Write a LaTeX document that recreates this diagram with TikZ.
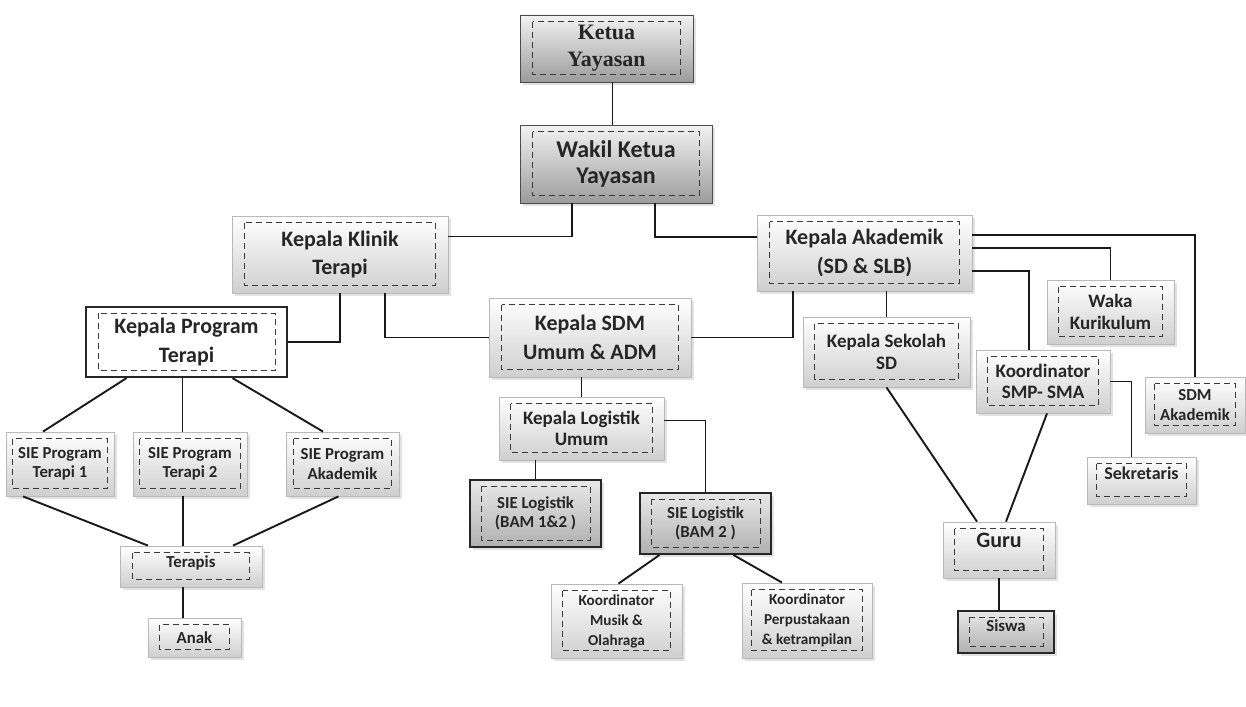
\documentclass[tikz,border=0pt]{standalone}
\usepackage{fontspec}
\setmainfont{Carlito}
\newfontfamily\ketuafont{Liberation Serif}
\usetikzlibrary{shadows}

\begin{document}
\begin{tikzpicture}[x=0.5pt,y=-0.5pt,
  box/.style={draw=gray!55, top color=white, bottom color=gray!38, align=center, inner sep=0pt, text=black!85,
    drop shadow={shadow xshift=1.3pt, shadow yshift=-1.3pt, fill=gray!45}},
  darkbox/.style={box, draw=gray!60!black, top color=gray!10, bottom color=gray!78},
  heavybox/.style={box, draw=black!85, line width=1pt, top color=gray!18, bottom color=gray!62},
  plainbox/.style={draw=black!85, line width=1.1pt, fill=white, align=center, inner sep=0pt, text=black!85},
  serifbig/.style={font=\ketuafont\bfseries\fontsize{11}{13.5}\selectfont},
  big/.style={font=\bfseries\fontsize{11}{14.2}\selectfont},
  mid/.style={font=\bfseries\fontsize{9.5}{10.8}\selectfont},
  sml/.style={font=\bfseries\fontsize{8.4}{9.8}\selectfont},
  tny/.style={font=\bfseries\fontsize{7.6}{10}\selectfont},
  inner/.style={draw=gray!45!black, densely dashed, line width=0.4pt},
  link/.style={draw=gray!20!black, line width=0.95pt}]
\useasboundingbox (0,0) rectangle (1246,706);

% yayasan
\node[darkbox, serifbig, minimum width=86.5pt, minimum height=33.5pt] (ketua) at (606.5,48.5) {Ketua\\Yayasan};
\node[darkbox, font=\bfseries\fontsize{12}{13}\selectfont, minimum width=96pt, minimum height=39pt] (wakil) at (616,164) {Wakil Ketua\\Yayasan};

% klinik terapi
\node[box, big, minimum width=108pt, minimum height=38.5pt] (klinik) at (340,254.5) {Kepala Klinik\\Terapi};
\node[plainbox, big, minimum width=100.5pt, minimum height=35pt] (program) at (186.5,342) {Kepala Program\\Terapi};
\node[box, sml, minimum width=54pt, minimum height=32pt] (terapi1) at (60,464) {SIE Program\\Terapi 1};
\node[box, sml, minimum width=57pt, minimum height=32pt] (terapi2) at (190,464) {SIE Program\\Terapi 2};
\node[box, sml, minimum width=56.5pt, minimum height=32pt] (progak) at (342.5,464) {SIE Program\\Akademik};
\node[box, sml, minimum width=71pt, minimum height=20.5pt, text depth=5pt] (terapis) at (191,566.5) {Terapis};
\node[box, sml, minimum width=46.5pt, minimum height=19.5pt] (anak) at (194.5,637.5) {Anak};

% sdm dan logistik
\node[box, big, minimum width=101pt, minimum height=39.5pt] (sdm) at (590,337.5) {Kepala SDM\\Umum \& ADM};
\node[box, mid, minimum width=82.5pt, minimum height=31.5pt] (logistik) at (581.5,428.5) {Kepala Logistik\\Umum};
\node[heavybox, sml, minimum width=65.5pt, minimum height=33.5pt] (bam12) at (535.5,513.5) {SIE Logistik\\(BAM 1\&2 )};
\node[heavybox, sml, minimum width=65.5pt, minimum height=30.5pt] (bam2) at (705.5,523.5) {SIE Logistik\\(BAM 2 )};
\node[box, tny, minimum width=65.5pt, minimum height=37pt] (musik) at (616.5,621) {Koordinator\\Musik \&\\Olahraga};
\node[box, tny, minimum width=65pt, minimum height=37.5pt] (perpus) at (807,620.5) {Koordinator\\Perpustakaan\\\& ketrampilan};

% akademik
\node[box, big, minimum width=107.5pt, minimum height=38pt] (akademik) at (864.5,253) {Kepala Akademik\\(SD \& SLB)};
\node[box, mid, minimum width=83.5pt, minimum height=35pt] (sekolah) at (886.5,352) {Kepala Sekolah\\SD};
\node[box, mid, minimum width=63.5pt, minimum height=32pt] (waka) at (1110.5,312) {Waka\\Kurikulum};
\node[box, mid, minimum width=67pt, minimum height=31.5pt] (koord) at (1043,381.5) {Koordinator\\SMP- SMA};
\node[box, sml, minimum width=50pt, minimum height=28pt] (sdmak) at (1195,405) {SDM\\Akademik};
\node[box, font=\bfseries\fontsize{9}{10}\selectfont, minimum width=54.5pt, minimum height=23.5pt, text depth=7pt] (sekretaris) at (1141.5,480.5) {Sekretaris};
\node[box, big, minimum width=56pt, minimum height=28pt, text depth=10pt] (guru) at (999,550) {Guru};
\node[heavybox, sml, minimum width=48pt, minimum height=21pt, text depth=6pt] (siswa) at (1006,632) {Siswa};

% kotak putus-putus di dalam
\foreach \n/\dx in {ketua/6.5pt, wakil/6.5pt, klinik/6.5pt, program/6.5pt, akademik/6.5pt, sdm/6.5pt,
    logistik/6pt, bam12/6pt, bam2/6pt, musik/6pt, perpus/5pt, sekolah/6pt, waka/6pt, koord/6pt,
    sdmak/5pt, sekretaris/5pt, guru/6pt, siswa/6pt, terapi1/3.5pt, terapi2/3.5pt, progak/4pt,
    terapis/6.5pt, anak/6pt}
  \draw[inner] ([shift={(\dx,-3.5pt)}]\n.north west) rectangle ([shift={(-\dx,4pt)}]\n.south east);

% garis
\draw[link] ([xshift=3pt]ketua.south) -- ([xshift=3pt]ketua.south |- wakil.north);
\draw[link] ([xshift=26pt]wakil.south west) |- ([yshift=9pt]klinik.east);
\draw[link] ([xshift=67.5pt]wakil.south west) |- ([yshift=8pt]akademik.west);
\draw[link] (klinik.south) |- (program.east);
\draw[link] ([xshift=22.5pt]klinik.south) |- (sdm.west);
\draw[link] ([xshift=18pt]akademik.south west) |- (sdm.east);
\draw[link] (sekolah.north) -- (sekolah.north |- akademik.south);
\draw[link] ([yshift=9pt]akademik.east) -| (sdmak.north);
\draw[link] ([yshift=2.5pt]akademik.east) -| (waka.north);
\draw[link] ([yshift=-9pt]akademik.east) -| ([xshift=-7pt]koord.north);
\draw[link] (koord.east) -| ([xshift=-5pt]sekretaris.north);
\draw[link] (sekolah.south) -- ([xshift=-11pt]guru.north);
\draw[link] ([xshift=2pt]koord.south) -- ([xshift=3.5pt]guru.north);
\draw[link] (guru.south) -- (guru.south |- siswa.north);
\draw[link] (logistik.north) -- (logistik.north |- sdm.south);
\draw[link] (bam12.north) -- (bam12.north |- logistik.south);
\draw[link] ([yshift=4pt]logistik.east) -| (bam2.north);
\draw[link] ([xshift=-23pt]bam2.south) -- ([xshift=1pt]musik.north);
\draw[link] ([xshift=14pt]bam2.south) -- ([xshift=-12.5pt]perpus.north);
\draw[link] ([xshift=-30pt]program.south) -- ([xshift=-8.5pt]terapi1.north);
\draw[link] ([xshift=-2pt]program.south) -- ([xshift=-2pt]program.south |- terapi2.north);
\draw[link] ([xshift=23pt]program.south) -- ([xshift=-9.75pt]progak.north);
\draw[link] ([xshift=-18.5pt]terapi1.south) -- ([xshift=-21.5pt]terapis.north);
\draw[link] ([xshift=-3.5pt]terapi2.south) -- ([xshift=-3.5pt]terapi2.south |- terapis.north);
\draw[link] ([xshift=-2pt]progak.south) -- ([xshift=21pt]terapis.north);
\draw[link] ([xshift=-4pt]terapis.south) -- ([xshift=-4pt]terapis.south |- anak.north);
\end{tikzpicture}
\end{document}
